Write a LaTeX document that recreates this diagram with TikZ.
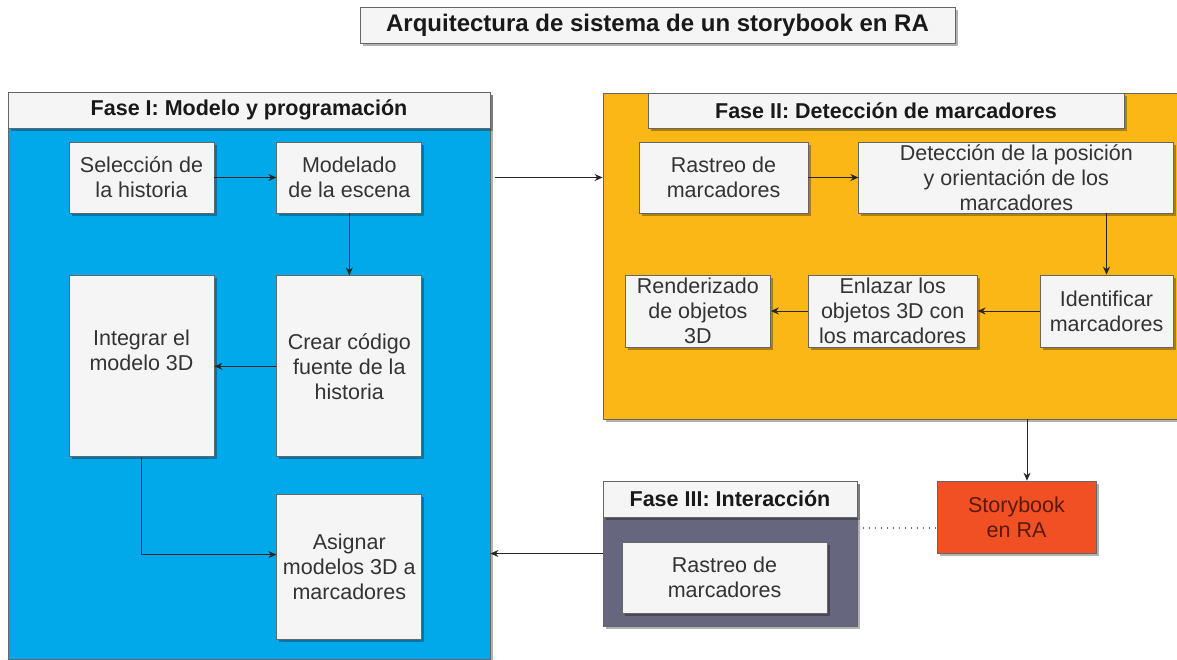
\documentclass[tikz,border=0pt]{standalone}
\usepackage{fontspec}
\setmainfont{Liberation Sans}
\usepackage{tikz}
\usetikzlibrary{arrows.meta, positioning, shadows}
\usepackage{xcolor}
\definecolor{laneblue}{HTML}{02A9EA}
\definecolor{laneorange}{HTML}{FAB716}
\definecolor{lanegray}{HTML}{67667F}
\definecolor{boxfill}{HTML}{F5F5F5}
\definecolor{boxline}{HTML}{666666}
\definecolor{boxtext}{HTML}{333333}
\definecolor{storyred}{HTML}{F05024}
\definecolor{storytext}{HTML}{5A1A0A}

\begin{document}
\begin{tikzpicture}[
    x=1pt, y=-1pt,
    every node/.style={font=\fontsize{21.5}{25}\selectfont, text=boxtext},
    softshadow/.style={drop shadow={shadow xshift=2.5pt, shadow yshift=-2.5pt, opacity=0.3, fill=black}},
    stage/.style={draw=boxline, line width=0.8pt, softshadow, inner sep=0pt},
    stagehead/.style={draw=boxline, fill=boxfill, line width=0.8pt, softshadow, minimum height=36pt, font=\fontsize{21.5}{25}\selectfont\bfseries, text=black!90},
    task/.style={draw=boxline, fill=boxfill, line width=0.8pt, softshadow, align=center, inner xsep=2pt, inner ysep=0pt, minimum width=145pt, minimum height=71pt},
    flow/.style={-{Stealth[length=8pt, width=7pt]}, line width=1pt, black!85},
    linkdots/.style={line width=1.6pt, dash pattern=on 0pt off 6pt, line cap=round, boxtext}
]
    \useasboundingbox (0,0) rectangle (1177,659);

    \node[stagehead, minimum width=595pt, font=\fontsize{24}{28}\selectfont\bfseries] (title) at (657.5,25) {Arquitectura de sistema de un storybook en RA};

    \node[stage, fill=laneblue, minimum width=482pt, minimum height=567pt] (fase1) at (249,375.5) {};
    \node[stagehead, minimum width=482pt] (fase1head) at (249,110) {Fase I: Modelo y programación};
    \node[stage, fill=laneorange, minimum width=574pt, minimum height=326pt] (fase2) at (890,256) {};
    \node[stagehead, minimum width=476pt, minimum height=35pt] (fase2head) at (886,110.5) {Fase II: Detección de marcadores};
    \node[stage, fill=lanegray, minimum width=254pt, minimum height=145pt] (fase3) at (730,553.5) {};
    \node[stagehead, minimum width=254pt] (fase3head) at (730,499) {Fase III: Interacción};

    \node[task] (seleccion) at (141.5,177.5) {Selección de\\la historia};
    \node[task, right=62pt of seleccion] (modelado) {Modelado\\de la escena};
    \node[task, minimum height=181pt, below=62pt of modelado] (crear) {Crear código\\fuente de la\\historia};
    \node[task, minimum height=181pt, left=62pt of crear] (integrar) {Integrar el\\modelo 3D\\\strut};
    \node[task, minimum height=145pt, below=37pt of crear] (asignar) {Asignar\\modelos 3D a\\marcadores};

    \node[task, minimum width=169pt] (rastreo) at (723.5,177.5) {Rastreo de\\marcadores};
    \node[task, minimum width=315pt, right=50pt of rastreo] (deteccion) {Detección de la posición\\y orientación de los\\marcadores};
    \node[task, minimum width=133pt, minimum height=72pt] (identificar) at (1106.5,311) {Identificar\\marcadores};
    \node[task, minimum width=169pt, minimum height=72pt, left=62pt of identificar] (enlazar) {Enlazar los\\objetos 3D con\\los marcadores};
    \node[task, minimum height=72pt, left=37pt of enlazar] (renderizado) {Renderizado\\de objetos\\3D};

    \node[task, minimum width=205pt] (rastreoint) at (724.5,577.5) {Rastreo de\\marcadores};
    \node[task, fill=storyred, text=storytext, minimum width=159pt, minimum height=72pt] (storybook) at (1016.5,517) {Storybook\\en RA};

    \coordinate (asignarin) at ([yshift=12.5pt]asignar.west);
    \coordinate (storyin) at ([xshift=10.5pt]storybook.north);
    \coordinate (storylink) at ([yshift=-11pt]storybook.west);

    \draw[flow] (seleccion) -- (modelado);
    \draw[flow] (modelado) -- (crear);
    \draw[flow] (crear) -- (integrar);
    \draw[flow] (integrar) |- (asignarin);
    \draw[flow, shorten <=5pt] (fase1.east |- modelado.east) -- (fase2.west |- modelado.east);

    \draw[flow] (rastreo) -- (deteccion);
    \draw[flow] (deteccion.south -| identificar.north) -- (identificar.north);
    \draw[flow] (identificar) -- (enlazar);
    \draw[flow] (enlazar) -- (renderizado);

    \draw[flow] (fase2.south -| storyin) -- (storyin);
    \draw[linkdots, shorten <=6pt] (fase3.east |- storylink) -- (storylink);
    \draw[flow] (fase3) -- (fase1.east |- fase3.west);
\end{tikzpicture}
\end{document}
